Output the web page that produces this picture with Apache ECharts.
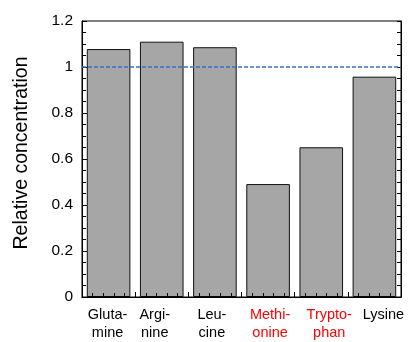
<!DOCTYPE html>
<html>
<head>
<meta charset="utf-8">
<script src="https://cdn.jsdelivr.net/npm/echarts@6/dist/echarts.min.js"></script>
<style>
  html, body { margin: 0; padding: 0; background: #fff; }
  #chart { width: 408px; height: 342px; }
</style>
</head>
<body>
<div id="chart"></div>
<script>
// Amino acid labels (hyphenated across two lines) and their relative concentrations
const categories = ['Gluta-\nmine', 'Argi-\nnine', 'Leu-\ncine', 'Methi-\nonine', 'Trypto-\nphan', 'Lysine'];
const values = [1.078, 1.11, 1.086, 0.491, 0.651, 0.958];
const highlighted = [false, false, false, true, true, false];
const yTicks = [0, 0.2, 0.4, 0.6, 0.8, 1, 1.2];
const referenceLevel = 1;

// styling: horizontal nudge (px) for each category label
const labelNudge = [-1, -7, -3, 2, 8, 9];

const font = 'Liberation Sans, Arial, Helvetica, sans-serif';
const chart = echarts.init(document.getElementById('chart'));

const labelRich = {};
categories.forEach(function (c, i) {
  const d = labelNudge[i];
  labelRich['s' + i] = {
    color: highlighted[i] ? '#ff0000' : '#000',
    fontFamily: font,
    fontSize: 14.5,
    lineHeight: 18,
    padding: [0, d < 0 ? -2 * d : 0, 0, d > 0 ? 2 * d : 0]
  };
});

chart.setOption({
  animation: false,
  grid: {
    left: 82, right: 7, top: 21, bottom: 45,
    outerBoundsMode: 'none',
    containLabel: false,
    show: true, borderColor: '#000', borderWidth: 1, backgroundColor: 'transparent'
  },
  xAxis: [
    {
      type: 'category',
      data: categories,
      axisLine: { show: true, onZero: false, lineStyle: { color: '#000', width: 1 } },
      axisTick: { show: false },
      axisLabel: {
        margin: 9,
        fontFamily: font,
        fontSize: 14.5,
        lineHeight: 18,
        interval: 0,
        formatter: function (v, i) {
          return v.split('\n').map(function (line) { return '{s' + i + '|' + line + '}'; }).join('\n');
        },
        color: '#000',
        rich: labelRich
      }
    },
    {
      // tick marks along the bottom edge (category boundaries + subdivisions)
      type: 'value',
      position: 'bottom',
      min: 0, max: categories.length, interval: 1,
      axisLine: { show: true, onZero: false, lineStyle: { color: '#000' } },
      axisLabel: { show: false },
      splitLine: { show: false },
      axisTick: { show: true, inside: true, length: 5, lineStyle: { color: '#000' } },
      minorTick: { show: true, splitNumber: 5, length: 4, lineStyle: { color: '#000' } }
    }
  ],
  yAxis: [
    {
      type: 'value',
      min: yTicks[0], max: yTicks[yTicks.length - 1], interval: 0.2,
      name: 'Relative concentration',
      nameLocation: 'middle',
      nameGap: 50,
      nameTextStyle: { fontFamily: font, fontSize: 19.5, color: '#000', padding: [0, 0, 0, 12] },
      axisLine: { show: true, onZero: false, lineStyle: { color: '#000' } },
      axisTick: { show: true, inside: true, length: 5, lineStyle: { color: '#000' } },
      minorTick: { show: true, splitNumber: 4, length: 4, lineStyle: { color: '#000' } },
      splitLine: { show: false },
      axisLabel: {
        margin: 9,
        fontFamily: font,
        fontSize: 15.5,
        color: '#000',
        formatter: function (v) { return String(Math.round(v * 10) / 10); }
      }
    },
    {
      // mirrored tick marks along the right edge
      type: 'value',
      position: 'right',
      min: yTicks[0], max: yTicks[yTicks.length - 1], interval: 0.2,
      axisLine: { show: true, onZero: false, lineStyle: { color: '#000' } },
      axisTick: { show: true, inside: true, length: 4, lineStyle: { color: '#000' } },
      minorTick: { show: true, splitNumber: 4, length: 4, lineStyle: { color: '#000' } },
      splitLine: { show: false },
      axisLabel: { show: false }
    }
  ],
  series: [
    {
      type: 'bar',
      z: -1,
      xAxisIndex: 0,
      yAxisIndex: 0,
      data: values,
      barWidth: '82%',
      itemStyle: { color: '#a6a6a6', borderColor: '#111', borderWidth: 1 }
    },
    {
      // dashed reference level spanning the full width
      type: 'line',
      xAxisIndex: 1,
      yAxisIndex: 0,
      data: [[0, referenceLevel], [categories.length, referenceLevel]],
      symbol: 'none',
      silent: true,
      lineStyle: { color: '#3a6fc8', type: [4, 2], width: 1.3 }
    }
  ]
});
</script>
</body>
</html>
